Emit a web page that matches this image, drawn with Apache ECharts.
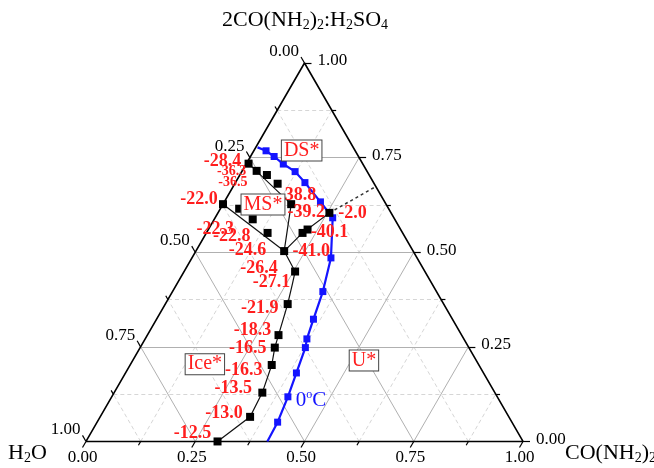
<!DOCTYPE html>
<html><head><meta charset="utf-8">
<script src="https://cdn.jsdelivr.net/npm/echarts@6/dist/echarts.min.js"></script>
<style>html,body{margin:0;padding:0;background:#fff}#c{width:654px;height:468px}</style>
</head><body><div id="c"></div>
<script>
// Mass fractions: urea = CO(NH2)2, ds = 2CO(NH2)2:H2SO4, water = 1 - urea - ds
const tickValues = [0, 0.125, 0.25, 0.375, 0.5, 0.625, 0.75, 0.875, 1];
const majorValues = [0, 0.25, 0.5, 0.75, 1];
const tickLabels = ['0.00', '0.25', '0.50', '0.75', '1.00'];

// 0 °C isotherm (blue)
const blueUrea = [0.004, 0.028, 0.054, 0.085, 0.122, 0.159, 0.220, 0.269, 0.318, 0.344, 0.359, 0.370, 0.378, 0.391, 0.403, 0.413, 0.415];
const blueDS   = [0.777, 0.768, 0.753, 0.733, 0.713, 0.684, 0.633, 0.591, 0.485, 0.396, 0.323, 0.271, 0.248, 0.181, 0.118, 0.051, 0.000];
const blueMarked = [false, true, true, true, true, true, true, true, true, true, true, true, true, true, true, true, false];

// Black experimental points with freezing temperatures (°C)
const blackTemps = ['-28.4', '-36.3', '-36.5', '-38.8', '-39.2', '-2.0', '-22.0', '-22.3', '-22.8', '-24.6', '-40.1', '', '-41.0', '-26.4', '-27.1', '-21.9', '-18.3', '-16.5', '-16.3', '-13.5', '-13.0', '-12.5'];
const blackUrea  = [0.005, 0.033, 0.062, 0.098, 0.156, 0.255, 0.000, 0.043, 0.088, 0.140, 0.220, 0.227, 0.202, 0.254, 0.264, 0.280, 0.300, 0.308, 0.324, 0.339, 0.343, 0.301];
const blackDS    = [0.734, 0.715, 0.704, 0.681, 0.627, 0.604, 0.627, 0.615, 0.587, 0.551, 0.551, 0.560, 0.503, 0.449, 0.417, 0.363, 0.281, 0.248, 0.202, 0.129, 0.065, 0.000];
const blackMarked = [true, true, true, true, true, true, true, true, true, true, true, true, true, true, false, true, true, true, true, true, true, true];

// Boundary curves (indices into black points)
const boundaryLines = [[0, 4, 12], [12, 10, 5], [6, 12], [12, 13, 14, 15, 16, 17, 18, 19, 20, 21]];
const dottedEndUrea = 0.327, dottedEndDS = 0.674;

// Field labels
const fieldNames = ['DS*', 'MS*', 'Ice*', 'U*'];
const fieldUrea  = [0.109, 0.092, 0.170, 0.529];
const fieldDS    = [0.769, 0.626, 0.204, 0.214];
const isoUrea = 0.461, isoDS = 0.108;

// ---- styles
const labelOffsets = [[-26,-2],[-25,1],[-34,7],[20,12],[15,8],[23,0],[-24,-5],[-24,21],[-21,17],[-20,17],[27,-1],[0,0],[27,0],[-36,-3],[-21,-1],[-28,4],[-26,-5],[-27,1],[-28,5],[-29,-4],[-26,-4],[-25,-8]];
const smallLabels = [1, 2];
const FONT = '"Liberation Serif","Times New Roman",serif';
const RED = '#ff1e1e', BLUE = '#1414ff';

const S = Math.sqrt(3) / 2;
const P = (b, c) => [b + c / 2, c * S];
const TL = 0.016, TLm = 0.010;

const gridMajor = [], gridMinor = [];
tickValues.forEach(t => {
  if (t <= 0 || t >= 1) return;
  const segs = [[P(0, t), P(1 - t, t)], [P(t, 0), P(t, 1 - t)], [P(1 - t, 0), P(0, 1 - t)]];
  (majorValues.includes(t) ? gridMajor : gridMinor).push(...segs.map(s => ({coords: s})));
});
const tickSegs = [];
tickValues.forEach(t => {
  const l = majorValues.includes(t) ? TL : TLm;
  tickSegs.push({coords: [P(t, 0), P(t, -l)]});
  tickSegs.push({coords: [P(0, 1 - t), P(-l, 1 - t + l)]});
  tickSegs.push({coords: [P(1 - t, t), P(1 - t + l, t)]});
});

const tickFont = {fontFamily: FONT, fontSize: 17, color: '#000'};
const bottomLabels = majorValues.map((t, i) => ({value: P(t, -TL), name: tickLabels[i]}));
const leftLabels = majorValues.map((t, i) => ({value: P(-TL, 1 - t + TL), name: tickLabels[i]}));
const rightLabels = majorValues.map((t, i) => ({value: P(1 - t + TL, t), name: tickLabels[i]}));

const blackData = blackTemps.map((name, i) => ({
  name, value: P(blackUrea[i], blackDS[i]),
  symbolSize: blackMarked[i] ? 8 : 0,
  label: {offset: labelOffsets[i], fontSize: smallLabels.includes(i) ? 14 : 18}
}));
const blueData = blueUrea.map((u, i) => ({value: P(u, blueDS[i]), symbolSize: blueMarked[i] ? 7 : 0}));

const rich = {
  n: {fontFamily: FONT, fontSize: 22, color: '#222', lineHeight: 25},
  s: {fontFamily: FONT, fontSize: 14, color: '#222', lineHeight: 14, verticalAlign: 'bottom'}
};
const OPQ = {opacity: 1};

const chart = echarts.init(document.getElementById('c'), null, {renderer: 'canvas'});
chart.setOption({
  animation: false,
  backgroundColor: '#fff',
  grid: {left: 86, top: 63, width: 437, height: 437 * S, containLabel: false, outerBoundsMode: 'none'},
  xAxis: {type: 'value', min: 0, max: 1, show: false},
  yAxis: {type: 'value', min: 0, max: S, show: false},
  graphic: [
    {type: 'text', left: 222, top: 9, style: {text: '{n|2CO(NH}{s|2}{n|)}{s|2}{n|:H}{s|2}{n|SO}{s|4}', rich}},
    {type: 'text', left: 8, top: 442, style: {text: '{n|H}{s|2}{n|O}', rich}},
    {type: 'text', left: 565, top: 442, style: {text: '{n|CO(NH}{s|2}{n|)}{s|2}', rich}}
  ],
  series: [
    {type: 'lines', coordinateSystem: 'cartesian2d', data: gridMinor, silent: true, clip: false, z: 1,
     lineStyle: {color: '#d6d6d6', width: 1, type: [4, 3], opacity: 1}},
    {type: 'lines', coordinateSystem: 'cartesian2d', data: gridMajor, silent: true, clip: false, z: 1,
     lineStyle: {color: '#b0b0b0', width: 1, opacity: 1}},
    {type: 'lines', coordinateSystem: 'cartesian2d', data: tickSegs, silent: true, clip: false, z: 2,
     lineStyle: {color: '#000', width: 1.2, opacity: 1}},
    {type: 'line', data: [P(0, 0), P(1, 0), P(0, 1), P(0, 0)], symbol: 'none', clip: false, z: 3,
     lineStyle: {color: '#000', width: 1.6}},
    {type: 'lines', coordinateSystem: 'cartesian2d', polyline: true, clip: false, z: 3, silent: true,
     data: boundaryLines.map(idx => ({coords: idx.map(i => P(blackUrea[i], blackDS[i]))})),
     lineStyle: {color: '#111', width: 1.2, opacity: 1}},
    {type: 'lines', coordinateSystem: 'cartesian2d', clip: false, z: 3, silent: true,
     data: [{coords: [P(blackUrea[5], blackDS[5]), P(dottedEndUrea, dottedEndDS)]}],
     lineStyle: {color: '#333', width: 1.5, type: [3, 3], opacity: 1}},
    {type: 'line', data: blueData, symbol: 'rect', clip: false, z: 4,
     itemStyle: {color: BLUE, opacity: 1}, lineStyle: {color: BLUE, width: 2.2}},
    {type: 'scatter', data: blackData, symbol: 'rect', clip: false, z: 5,
     itemStyle: {color: '#000', opacity: 1},
     label: {show: true, position: 'inside', formatter: '{b}', color: RED, fontWeight: 'bold', fontFamily: FONT}},
    {type: 'scatter', clip: false, z: 10, symbolSize: 0, itemStyle: OPQ,
     data: fieldNames.map((n, i) => ({name: n, value: P(fieldUrea[i], fieldDS[i])})),
     label: {show: true, position: 'inside', formatter: '{b}', color: RED, fontFamily: FONT, fontSize: 20,
             backgroundColor: '#fff', borderColor: '#444', borderWidth: 1, padding: [1, 2, 0, 2], lineHeight: 19}},
    {type: 'scatter', clip: false, z: 10, symbolSize: 0, itemStyle: OPQ,
     data: [{name: '0C', value: P(isoUrea, isoDS)}],
     label: {show: true, position: 'inside', formatter: '{a|0}{b|o}{a|C}',
             rich: {a: {fontFamily: FONT, fontSize: 21, color: BLUE, lineHeight: 24},
                    b: {fontFamily: FONT, fontSize: 12, color: BLUE, lineHeight: 12, verticalAlign: 'top'}}}},
    {type: 'scatter', clip: false, z: 6, symbolSize: 0, data: bottomLabels, itemStyle: OPQ,
     label: Object.assign({show: true, position: 'bottom', distance: 2, formatter: '{b}'}, tickFont)},
    {type: 'scatter', clip: false, z: 6, symbolSize: 0, data: leftLabels, itemStyle: OPQ,
     label: Object.assign({show: true, position: 'inside', align: 'right', verticalAlign: 'bottom', offset: [-2, 3], formatter: '{b}'}, tickFont)},
    {type: 'scatter', clip: false, z: 6, symbolSize: 0, data: rightLabels, itemStyle: OPQ,
     label: Object.assign({show: true, position: 'inside', align: 'left', verticalAlign: 'middle', offset: [6, -2], formatter: '{b}'}, tickFont)}
  ]
});
</script></body></html>
